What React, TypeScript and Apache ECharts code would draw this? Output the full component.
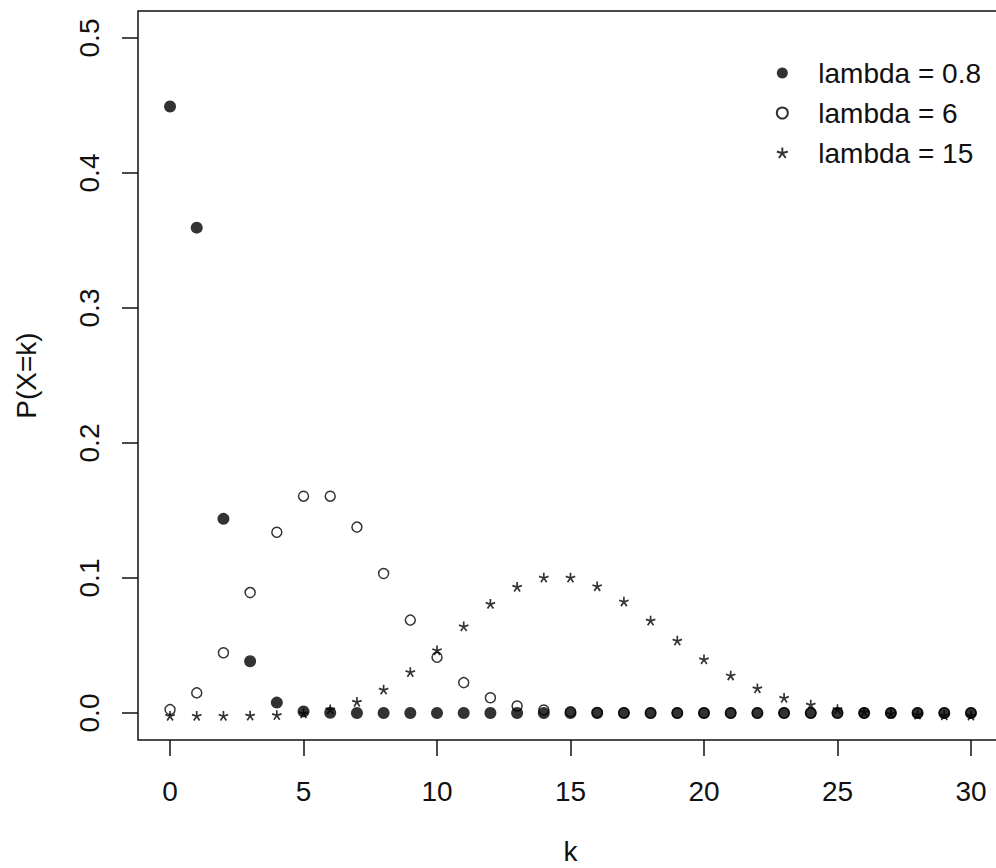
import React, { useEffect, useRef } from "react";
import * as echarts from "echarts";

const kValues = [0, 1, 2, 3, 4, 5, 6, 7, 8, 9, 10, 11, 12, 13, 14, 15, 16, 17, 18, 19, 20, 21, 22, 23, 24, 25, 26, 27, 28, 29, 30];

const lambda08 = [0.4493, 0.3595, 0.1438, 0.0383, 0.0077, 0.0012, 0.0002, 0, 0, 0, 0, 0, 0, 0, 0, 0, 0, 0, 0, 0, 0, 0, 0, 0, 0, 0, 0, 0, 0, 0, 0];
const lambda6 = [0.0025, 0.0149, 0.0446, 0.0892, 0.1339, 0.1606, 0.1606, 0.1377, 0.1033, 0.0688, 0.0413, 0.0225, 0.0113, 0.0052, 0.0022, 0.0009, 0.0003, 0.0001, 0, 0, 0, 0, 0, 0, 0, 0, 0, 0, 0, 0, 0];
const lambda15 = [0, 0, 0, 0.0002, 0.0006, 0.0019, 0.0048, 0.0104, 0.0194, 0.0324, 0.0486, 0.0663, 0.0829, 0.0956, 0.1024, 0.1024, 0.096, 0.0847, 0.0706, 0.0557, 0.0418, 0.0299, 0.0204, 0.0133, 0.0083, 0.005, 0.0029, 0.0016, 0.0009, 0.0004, 0.0002];

const seriesNames = ["lambda = 0.8", "lambda = 6", "lambda = 15"];
const xTicks = [0, 5, 10, 15, 20, 25, 30];
const yTicks = [0, 0.1, 0.2, 0.3, 0.4, 0.5];

function asteriskPath(): string {
  const arms = 5;
  const w = 0.34;
  let d = "";
  for (let i = 0; i < arms; i++) {
    const a = ((-90 + i * 72) * Math.PI) / 180;
    const dx = Math.cos(a);
    const dy = Math.sin(a);
    const px = -dy * (w / 2);
    const py = dx * (w / 2);
    const pts = [
      [px, py],
      [dx + px, dy + py],
      [dx - px, dy - py],
      [-px, -py],
    ];
    d += "M" + pts.map((p) => (p[0] * 10).toFixed(3) + "," + (p[1] * 10).toFixed(3)).join("L") + "Z";
  }
  return "path://" + d;
}

const FONT = "Liberation Sans, Arial, sans-serif";
const TXT = "#111";

export default function App() {
  const ref = useRef<HTMLDivElement>(null);
  useEffect(() => {
    if (!ref.current) return;
    const chart = echarts.init(ref.current, undefined, { renderer: "svg" });
    const star = asteriskPath();
    const toPairs = (vals: number[]) => kValues.map((k, i) => [k, vals[i]]);
    chart.setOption({
      animation: false,
      backgroundColor: "#fff",
      textStyle: { fontFamily: FONT },
      grid: {
        left: 138,
        right: -7,
        top: 11,
        bottom: 128,
        containLabel: false,
        outerBoundsMode: "none",
        show: true,
        borderColor: "#111",
        borderWidth: 1.5,
        backgroundColor: "transparent",
      },
      legend: {
        orient: "vertical",
        right: 15,
        top: 59,
        padding: 0,
        itemWidth: 62,
        itemHeight: 11,
        itemGap: 12,
        data: seriesNames,
        textStyle: { fontSize: 28, color: TXT, fontFamily: FONT },
      },
      xAxis: {
        type: "value",
        min: -1.2,
        max: 31.2,
        name: "k",
        nameLocation: "middle",
        nameGap: 97,
        nameTextStyle: { fontSize: 28, color: TXT, fontFamily: FONT },
        axisLine: { show: false, onZero: false },
        splitLine: { show: false },
        axisTick: {
          show: true,
          length: 16,
          customValues: xTicks,
          lineStyle: { color: "#111", width: 1.5 },
        },
        axisLabel: {
          customValues: xTicks,
          margin: 37,
          fontSize: 28,
          color: TXT,
          fontFamily: FONT,
        },
      },
      yAxis: {
        type: "value",
        min: -0.02,
        max: 0.52,
        name: "P(X=k)",
        nameLocation: "middle",
        nameGap: 98,
        nameRotate: 90,
        nameTextStyle: { fontSize: 28, color: TXT, fontFamily: FONT },
        axisLine: { show: false, onZero: false },
        splitLine: { show: false },
        axisTick: {
          show: true,
          length: 16,
          customValues: yTicks,
          lineStyle: { color: "#111", width: 1.5 },
        },
        axisLabel: {
          customValues: yTicks,
          rotate: 90,
          margin: 35,
          fontSize: 28,
          color: TXT,
          fontFamily: FONT,
          formatter: (v: number) => v.toFixed(1),
        },
      },
      series: [
        {
          name: seriesNames[0],
          type: "scatter",
          symbol: "circle",
          symbolSize: 12,
          itemStyle: { color: "#000" },
          data: toPairs(lambda08),
        },
        {
          name: seriesNames[1],
          type: "scatter",
          symbol: "circle",
          symbolSize: 10,
          itemStyle: { color: "rgba(0,0,0,0)", borderColor: "#000", borderWidth: 1.5 },
          data: toPairs(lambda6),
        },
        {
          name: seriesNames[2],
          type: "scatter",
          symbol: star,
          symbolSize: 10,
          symbolOffset: [0, 3],
          itemStyle: { color: "#000" },
          data: toPairs(lambda15),
        },
      ],
    });
    return () => chart.dispose();
  }, []);
  return <div ref={ref} style={{ position: "absolute", left: 0, top: 0, width: 996, height: 868 }} />;
}
